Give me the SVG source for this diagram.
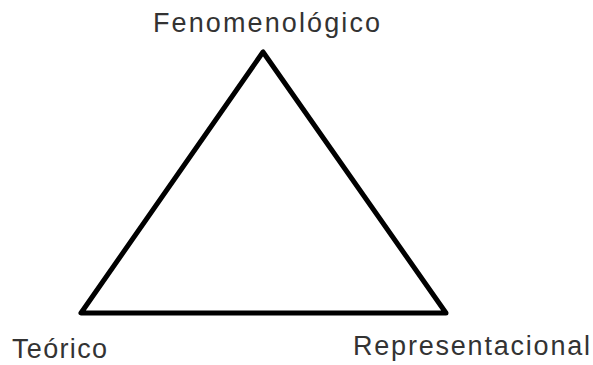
<svg xmlns="http://www.w3.org/2000/svg" width="593" height="365" viewBox="0 0 593 365">
<style>
.lbl{font-family:"Liberation Sans",Arial,sans-serif;font-size:27px;fill:#333333}
.tri{fill:none;stroke:#000;stroke-width:5;stroke-linejoin:round}
</style>
<rect width="593" height="365" fill="#fff"/>
<g id="triangle"><polygon class="tri" points="263,52 81,313 446,313"/></g>
<g id="fenomenologico"><text class="lbl" x="153" y="32" textLength="227" lengthAdjust="spacing">Fenomenológico</text></g>
<g id="teorico"><text class="lbl" x="12" y="358" font-size="26" textLength="95" lengthAdjust="spacing">Teórico</text></g>
<g id="representacional"><text class="lbl" x="353" y="355" textLength="237" lengthAdjust="spacing">Representacional</text></g>
</svg>
